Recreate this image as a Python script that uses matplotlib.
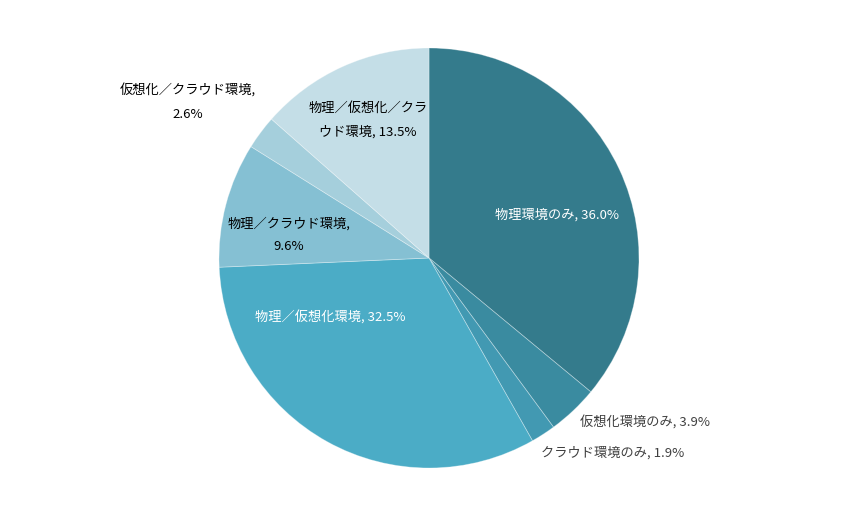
import matplotlib.pyplot as plt

plt.rcParams['font.family'] = ['Noto Sans CJK JP', 'DejaVu Sans']

# データ
labels = ['物理環境のみ', '仮想化環境のみ', 'クラウド環境のみ', '物理／仮想化環境',
          '物理／クラウド環境', '仮想化／クラウド環境', '物理／仮想化／クラウド環境']
values = [36.0, 3.9, 1.9, 32.5, 9.6, 2.6, 13.5]
colors = ['#347b8c', '#3a8ba0', '#4299b2', '#4bacc6', '#85c0d3', '#a5cfdc', '#c4dee7']

# ラベルの表示テキストと位置 (ピクセル座標)
label_texts = ['物理環境のみ, 36.0%', '仮想化環境のみ, 3.9%', 'クラウド環境のみ, 1.9%',
               '物理／仮想化環境, 32.5%', '物理／クラウド環境,\n9.6%',
               '仮想化／クラウド環境,\n2.6%', '物理／仮想化／クラ\nウド環境, 13.5%']
label_pos = [(557, 215), (645, 423), (613, 453), (330, 318), (289, 235), (188, 102), (368, 120)]
label_colors = ['white', '#404040', '#404040', 'white', 'black', 'black', 'black']

W, H = 858, 516
fig = plt.figure(figsize=(W / 100, H / 100), dpi=100)
ax = fig.add_axes([0, 0, 1, 1])
ax.set_xlim(0, W)
ax.set_ylim(0, H)
ax.set_aspect('equal')
ax.axis('off')

ax.pie(values, colors=colors, startangle=90, counterclock=False,
       center=(429, H - 258), radius=210,
       wedgeprops=dict(edgecolor=(1, 1, 1, 0.35), linewidth=0.6))
ax.set_xlim(0, W)
ax.set_ylim(0, H)

for txt, (px, py), c in zip(label_texts, label_pos, label_colors):
    ax.text(px, H - py, txt, ha='center', va='center', color=c, fontsize=9.5,
            linespacing=2.0)

fig.savefig('out.png', dpi=100)
